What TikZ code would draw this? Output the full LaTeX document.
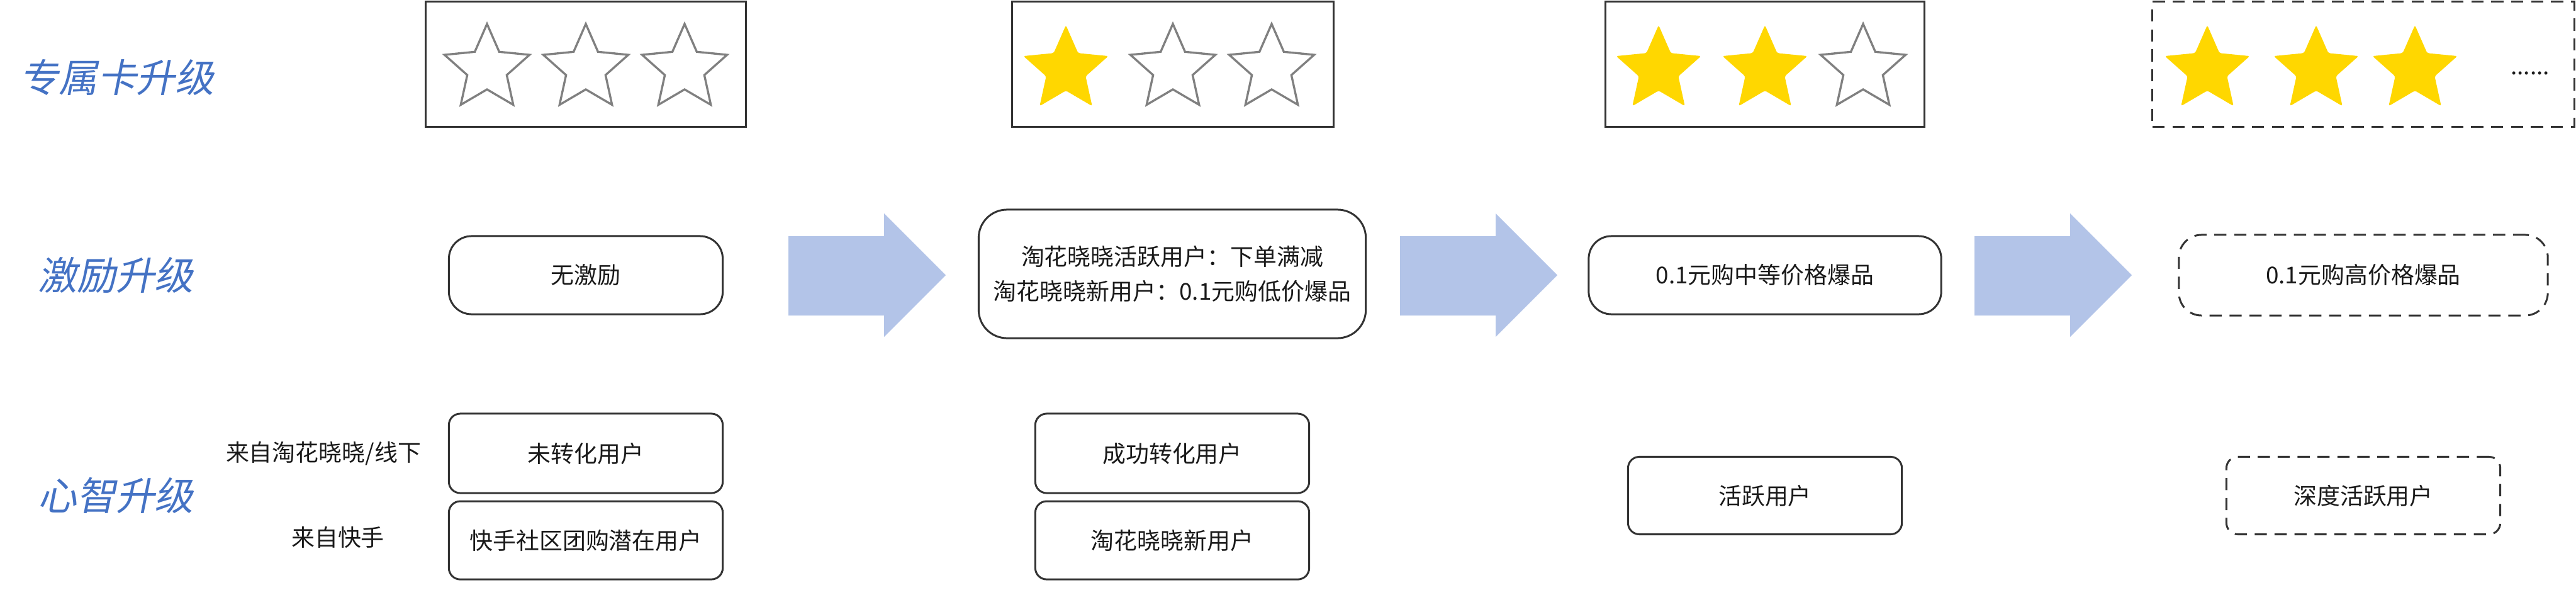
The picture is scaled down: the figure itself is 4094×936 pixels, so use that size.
\documentclass[tikz,border=0pt]{standalone}
\usepackage{fontspec}
\setmainfont{Noto Sans CJK SC}
\newfontfamily\slantfont[FakeSlant=0.2]{Noto Sans CJK SC}
\usepackage{tikz}
\usetikzlibrary{positioning}

\definecolor{titleblue}{HTML}{4472C4}
\definecolor{arrowblue}{HTML}{B3C4E8}
\definecolor{stargray}{HTML}{808080}
\definecolor{staryellow}{HTML}{FFD700}
\definecolor{framegray}{HTML}{333333}
\definecolor{textblack}{HTML}{1A1A1A}

\tikzset{
  starpic/.pic={
    \path[pic actions] (270:71) -- (306:33) -- (342:71) -- (18:33) -- (54:71)
      -- (90:33) -- (126:71) -- (162:33) -- (198:71) -- (234:33) -- cycle;
  }
}

\begin{document}
\begin{tikzpicture}[x=0.01cm, y=-0.01cm,
  rowtitle/.style={font=\slantfont\fontsize{17.6}{20}\selectfont, text=titleblue},
  cardframe/.style={draw=framegray, line width=0.85pt, minimum width=5.08cm, minimum height=1.98cm, inner sep=0pt},
  stagebox/.style={draw=framegray, line width=0.85pt, rounded corners=0.36cm, minimum width=4.35cm,
    minimum height=1.24cm, inner sep=0pt, align=center, text=textblack, font=\fontsize{10.5}{15.9}\selectfont},
  userbox/.style={stagebox, rounded corners=0.18cm},
  planned/.style={dash pattern=on 5.5pt off 3.5pt},
  srclabel/.style={text=textblack, font=\fontsize{10.5}{15.9}\selectfont},
  hollowstar/.style={draw=stargray, line width=0.95pt, fill=white},
  fullstar/.style={fill=staryellow, rounded corners=0.03cm},
  blockarrow/.style={fill=arrowblue}
]
  \useasboundingbox (0,0) rectangle (4094,936);

  % Card level row
  \node[rowtitle] (cardtitle) at (186,123) {专属卡升级};
  \node[cardframe] (card1) at (931,102) {};
  \node[cardframe, minimum width=5.10cm] (card2) at (1864,102) {};
  \node[cardframe, minimum width=5.06cm] (card3) at (2805,102) {};
  \node[cardframe, planned, minimum width=6.70cm] (card4) at (3756,102) {};

  % Stars on the cards
  \foreach \sx in {774,931,1088}
    \pic[hollowstar] at (\sx,109) {starpic};
  \pic[fullstar] at (1694,111) {starpic};
  \foreach \sx in {1864,2021}
    \pic[hollowstar] at (\sx,109) {starpic};
  \foreach \sx in {2636,2805}
    \pic[fullstar] at (\sx,111) {starpic};
  \pic[hollowstar] at (2961,109) {starpic};
  \foreach \sx in {3508,3681,3838}
    \pic[fullstar] at (\sx,111) {starpic};
  \node[srclabel] (more) at (4021,116) {......};

  % Incentive row
  \node[rowtitle] (incentitle) at (184,437) {激励升级};
  \node[stagebox] (noreward) at (931,437) {无激励};
  \node[stagebox, minimum width=6.15cm, minimum height=2.04cm, rounded corners=0.45cm] (discount) at (1863,435)
    {淘花晓晓活跃用户：下单满减\\淘花晓晓新用户：0.1元购低价爆品};
  \node[stagebox, minimum width=5.60cm] (midprice) at (2805,437) {0.1元购中等价格爆品};
  \node[stagebox, planned, minimum width=5.86cm, minimum height=1.28cm] (highprice) at (3756,437) {0.1元购高价格爆品};

  % Big arrows between the stages
  \foreach \ax in {1253,2225,3138}
    \fill[blockarrow] (\ax,375) -- ++(152,0) -- ++(0,-36) -- ++(98,98) -- ++(-98,98)
      -- ++(0,-34) -- ++(-152,0) -- cycle;

  % Mindset row
  \node[rowtitle] (mindtitle) at (184,787) {心智升级};
  \node[srclabel] (fromtaohua) at (514,720) {来自淘花晓晓/线下};
  \node[srclabel] (fromkuaishou) at (537,853) {来自快手};
  \node[userbox, minimum height=1.26cm] (unconverted) at (931,720) {未转化用户};
  \node[userbox, below=0.1cm of unconverted] (potential) {快手社区团购潜在用户};
  \node[userbox, minimum height=1.26cm] (converted) at (1863,720) {成功转化用户};
  \node[userbox, below=0.1cm of converted] (newuser) {淘花晓晓新用户};
  \node[userbox, minimum height=1.23cm] (active) at (2805,787) {活跃用户};
  \node[userbox, planned, minimum height=1.23cm] (deepactive) at (3756,787) {深度活跃用户};

\end{tikzpicture}
\end{document}
